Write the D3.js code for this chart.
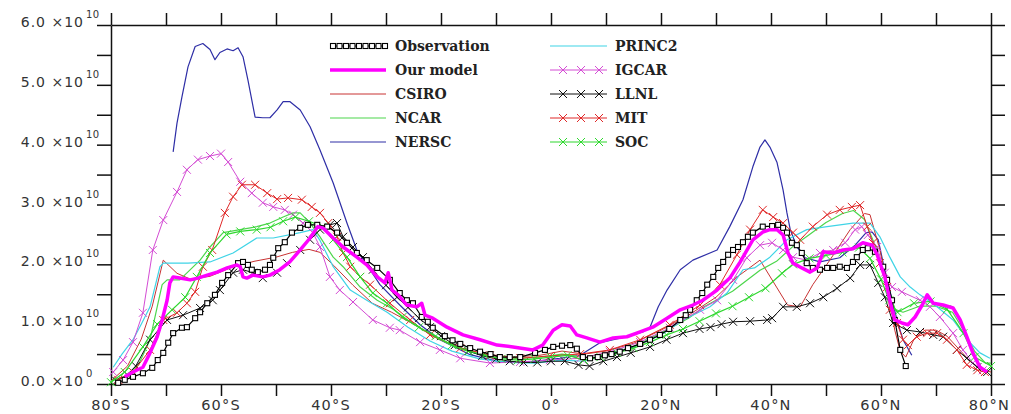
<!DOCTYPE html>
<html>
<head>
<meta charset="utf-8">
<script src="https://cdn.jsdelivr.net/npm/d3@7/dist/d3.min.js"></script>
<style>
  body { margin: 0; background: #fff; }
  svg { display: block; }
</style>
</head>
<body>
<svg id="canvas" width="1011" height="414"></svg>
<script>
// Values are [latitude, value in units of 1e10]
let observation = [[-78.7,0.02],[-77.5,0.07],[-76.0,0.12],[-74.2,0.18],[-72.5,0.27],[-71.5,0.40],[-70.5,0.52],[-69.6,0.69],[-68.7,0.85],[-67.1,0.94],[-66.2,0.95],[-64.7,1.10],[-63.8,1.20],[-62.5,1.35],[-61.1,1.49],[-59.8,1.69],[-58.7,1.82],[-56.9,2.02],[-56.0,2.04],[-55.1,1.99],[-54.4,1.91],[-53.3,1.87],[-52.0,1.91],[-51.1,1.99],[-50.5,2.11],[-49.6,2.27],[-48.4,2.37],[-47.1,2.53],[-45.6,2.61],[-44.2,2.66],[-42.5,2.66],[-40.7,2.63],[-38.9,2.53],[-37.1,2.36],[-35.3,2.19],[-33.5,2.07],[-31.6,1.94],[-29.3,1.74],[-27.5,1.52],[-26.2,1.40],[-25.1,1.35],[-23.5,1.12],[-22.4,1.04],[-21.5,0.94],[-19.3,0.80],[-17.9,0.73],[-16.5,0.67],[-14.7,0.60],[-12.9,0.54],[-11.0,0.50],[-9.3,0.45],[-7.5,0.45],[-5.6,0.45],[-2.9,0.52],[-1.1,0.57],[0.4,0.62],[2.0,0.64],[3.5,0.65],[4.7,0.59],[5.8,0.45],[7.1,0.43],[8.5,0.45],[9.8,0.48],[11.0,0.50],[12.5,0.54],[14.0,0.60],[16.2,0.67],[18.0,0.74],[19.8,0.82],[21.5,0.92],[23.5,1.07],[24.5,1.15],[25.3,1.24],[26.5,1.40],[27.5,1.52],[28.4,1.66],[29.5,1.79],[30.4,1.94],[31.3,2.04],[32.2,2.16],[33.1,2.24],[34.0,2.29],[34.9,2.37],[35.8,2.46],[36.7,2.53],[38.5,2.63],[40.2,2.64],[41.3,2.66],[42.2,2.61],[42.9,2.53],[43.8,2.36],[44.7,2.32],[45.6,2.19],[46.5,2.02],[47.6,1.94],[48.9,1.91],[50.2,1.94],[51.3,1.94],[52.5,1.96],[53.8,1.94],[54.9,2.04],[55.6,2.12],[56.7,2.24],[57.6,2.27],[58.9,2.21],[60.4,1.96],[61.1,1.74],[62.0,1.40],[62.5,1.07],[63.5,0.57],[64.5,0.30]];

let ourModel = [[-77.5,0.12],[-76.0,0.20],[-74.2,0.28],[-72.9,0.52],[-71.6,0.79],[-70.7,1.07],[-69.8,1.40],[-69.3,1.69],[-68.7,1.79],[-67.5,1.77],[-65.6,1.74],[-64.2,1.77],[-62.5,1.82],[-60.7,1.87],[-58.9,1.94],[-57.1,1.99],[-56.5,1.96],[-56.0,1.79],[-55.3,1.77],[-54.2,1.82],[-52.4,1.79],[-51.1,1.82],[-49.3,1.91],[-47.5,2.04],[-45.6,2.24],[-43.8,2.44],[-42.4,2.63],[-41.5,2.61],[-39.6,2.44],[-37.8,2.29],[-35.3,2.12],[-33.5,1.99],[-31.6,1.79],[-30.2,1.69],[-29.6,1.86],[-28.9,1.57],[-27.8,1.49],[-26.2,1.32],[-24.4,1.29],[-23.5,1.35],[-22.9,1.15],[-21.5,1.10],[-18.9,0.95],[-16.0,0.82],[-12.9,0.74],[-9.8,0.65],[-6.9,0.62],[-3.3,0.57],[-1.5,0.65],[0.4,0.90],[2.0,0.99],[3.5,0.97],[4.7,0.82],[6.5,0.77],[8.9,0.70],[11.3,0.77],[13.8,0.79],[16.2,0.87],[18.5,0.95],[21.1,1.10],[23.5,1.24],[25.8,1.32],[27.6,1.40],[30.2,1.57],[32.5,1.77],[34.4,2.04],[36.7,2.41],[38.5,2.54],[39.8,2.58],[41.1,2.58],[42.2,2.49],[43.1,2.19],[44.0,2.02],[45.6,1.94],[47.1,1.87],[48.4,1.94],[49.5,2.21],[51.3,2.19],[53.1,2.24],[54.9,2.26],[56.7,2.36],[58.4,2.32],[59.3,2.16],[60.7,1.79],[61.6,1.40],[62.5,1.07],[63.8,1.02],[64.9,0.99],[66.2,1.12],[67.5,1.32],[68.4,1.49],[69.5,1.35],[71.3,1.32],[73.1,1.27],[74.4,1.07],[75.6,0.79],[76.7,0.52],[78.0,0.28],[79.3,0.20]];

let csiro = [[-80,0.05],[-77,0.3],[-74.5,0.75],[-72.5,1.3],[-70.5,2.07],[-68,1.85],[-65.5,1.75],[-62,1.8],[-58,1.95],[-54,2.05],[-50,2.12],[-47,2.2],[-44,2.25],[-42,2.2],[-39.5,1.98],[-36,1.65],[-32.5,1.35],[-29,1.2],[-25,1.0],[-21,0.78],[-17,0.62],[-12,0.5],[-7,0.45],[-2,0.48],[2,0.55],[6,0.5],[10,0.55],[15,0.68],[20,0.9],[25,1.15],[30,1.45],[34,1.8],[38,2.07],[41,1.62],[43,1.32],[45.3,1.29],[47.6,1.66],[50.7,2.07],[54.4,2.58],[57,2.85],[58,2.83],[59.8,2.24],[61.3,1.57],[62.5,0.9],[63.5,0.55],[64.5,0.45],[66,0.75],[68,0.9],[70,0.9],[72,0.8],[74,0.6],[76,0.4],[78,0.25],[80,0.2]];

let ncar = [[-80,0.05],[-77.6,0.12],[-75,0.32],[-72.9,0.74],[-71.6,1.29],[-70.7,1.66],[-69.8,1.74],[-67.5,1.74],[-63.8,2.07],[-62,2.29],[-59.6,2.53],[-56.5,2.58],[-53.5,2.63],[-51.1,2.69],[-48.7,2.79],[-46.9,2.86],[-45.6,2.86],[-43.8,2.69],[-42,2.46],[-39.6,2.12],[-37.8,1.96],[-34.7,1.62],[-31.6,1.4],[-28.7,1.25],[-25,1.0],[-21,0.78],[-17,0.6],[-12,0.47],[-7,0.42],[-2,0.45],[2,0.5],[6,0.45],[10,0.5],[15,0.62],[20,0.85],[25,1.1],[28,1.3],[33,1.55],[38,1.9],[41,2.05],[44,2.3],[47,2.5],[50,2.7],[53,2.85],[55,2.9],[57,2.75],[59,2.3],[61,1.7],[62.5,1.25],[64,1.2],[67,1.3],[70,1.3],[73,1.2],[75,0.9],[77,0.55],[79,0.35],[80,0.35]];

let nersc = [[-68.7,3.88],[-68.0,4.36],[-67.1,4.80],[-66.0,5.30],[-64.7,5.64],[-63.3,5.69],[-62.0,5.59],[-61.1,5.42],[-60.2,5.54],[-58.9,5.60],[-57.8,5.57],[-56.9,5.62],[-56.0,5.47],[-55.1,5.08],[-53.8,4.46],[-52.4,4.45],[-51.1,4.45],[-49.8,4.58],[-48.7,4.72],[-47.5,4.72],[-45.6,4.58],[-43.8,4.30],[-42.0,3.91],[-39.6,3.36],[-37.1,2.69],[-35.3,2.24],[-32.9,1.91],[-31.1,1.66],[-27.5,1.32],[-23.8,0.99],[-20.2,0.74],[-14.7,0.49],[-9.3,0.37],[-3.8,0.37],[1.6,0.43],[5.3,0.48],[8.9,0.69],[13.8,0.79],[16.7,0.87],[18.0,0.95],[19.5,1.29],[21.1,1.57],[23.5,1.91],[25.8,2.07],[30.2,2.24],[32.5,2.63],[34.9,3.08],[36.7,3.63],[38.0,3.96],[38.9,4.08],[39.8,3.96],[41.1,3.70],[42.2,3.24],[42.9,2.86],[43.5,2.58],[44.7,2.29],[46.2,2.11],[48.9,2.04],[52.5,2.11],[55.3,2.32],[57.3,2.53],[58.4,2.54],[59.5,2.41],[60.4,2.02],[61.6,1.57],[62.9,1.07],[64.0,0.74],[65.6,0.48]];

let princ2 = [[-79.6,0.28],[-78,0.5],[-76,0.74],[-74.5,1.0],[-72.9,1.29],[-71.1,1.96],[-70.5,2.02],[-66,2.02],[-62,2.04],[-57.8,2.19],[-53.5,2.44],[-50.5,2.44],[-45.6,2.53],[-43.3,2.58],[-42,2.4],[-39.6,1.96],[-36.5,1.57],[-33.5,1.4],[-29.8,1.2],[-26,0.95],[-22,0.72],[-18,0.55],[-13,0.42],[-8,0.36],[-3,0.35],[2,0.4],[6,0.38],[10,0.48],[15,0.62],[20,0.82],[24,1.07],[28.9,1.29],[32,1.52],[34.9,1.91],[37,1.94],[39.8,2.12],[42.9,2.41],[46.5,2.58],[50.2,2.63],[54.9,2.69],[58,2.69],[59.8,2.46],[61.6,2.12],[63.5,1.79],[65.3,1.62],[67.1,1.49],[70.2,1.29],[73.1,1.07],[76.2,0.69],[78,0.52],[79.8,0.43]];

let igcar = [[-79.6,0.20],[-77.8,0.40],[-76.0,0.70],[-74.2,1.19],[-72.4,2.24],[-70.5,2.74],[-68.0,3.21],[-66.2,3.58],[-64.2,3.75],[-62.0,3.81],[-60.0,3.85],[-58.7,3.71],[-56.5,3.38],[-54.4,3.19],[-52.4,3.03],[-50.5,2.96],[-48.4,2.91],[-46.9,2.83],[-45.1,2.69],[-43.3,2.53],[-42.0,2.29],[-40.2,1.79],[-38.4,1.57],[-36.0,1.37],[-32.4,1.07],[-29.3,0.94],[-27.5,0.90],[-23.8,0.70],[-20.2,0.57],[-16.5,0.43],[-11.1,0.35],[-5.6,0.37],[-0.2,0.40],[5.3,0.43],[10.7,0.54],[16.2,0.70],[21.6,0.94],[27.1,1.24],[30.2,1.40],[33.1,1.74],[35.6,2.11],[38.0,2.32],[40.2,2.36],[42.2,2.24],[44.0,2.12],[46.5,2.07],[48.9,2.19],[51.3,2.24],[53.5,2.36],[55.3,2.58],[56.5,2.63],[57.6,2.49],[59.3,2.29],[60.7,1.86],[62.0,1.62],[63.8,1.54],[67.1,1.40],[68.9,1.29],[70.7,1.12],[73.1,0.85],[74.9,0.57],[76.7,0.35],[78.5,0.23]];

let llnl = [[-79,0.05],[-77,0.15],[-75.5,0.3],[-72.9,0.74],[-69.8,1.07],[-66.9,1.15],[-63.8,1.27],[-61.5,1.40],[-60.2,1.57],[-57.8,1.86],[-56,1.91],[-54.2,1.86],[-52.4,1.77],[-49.8,1.86],[-48,2.02],[-45.6,2.24],[-43.8,2.41],[-42,2.58],[-40.2,2.66],[-38.9,2.69],[-37.8,2.46],[-36,2.29],[-34.2,2.12],[-32.4,1.91],[-30,1.65],[-28,1.45],[-26,1.28],[-24,1.1],[-22,0.95],[-20,0.8],[-17.5,0.65],[-15,0.55],[-12.5,0.47],[-10,0.42],[-7.5,0.38],[-5,0.36],[-2.5,0.36],[0,0.38],[2.5,0.38],[5,0.32],[7,0.3],[9.5,0.38],[12,0.45],[14.5,0.52],[18,0.62],[21,0.74],[24,0.85],[27,0.92],[29,0.95],[31,1.0],[33.1,1.04],[36.2,1.05],[39.3,1.07],[40.2,1.1],[42.2,1.29],[44.7,1.29],[47.1,1.35],[49.5,1.45],[52,1.6],[54.4,1.77],[56.2,1.99],[58,1.99],[59.5,1.69],[60.7,1.45],[62.2,1.02],[64.7,0.9],[67.1,0.87],[69.5,0.82],[71.3,0.79],[73.8,0.57],[75.6,0.43],[77.5,0.28],[79.3,0.2]];

let mit = [[-78.7,0.07],[-76.0,0.20],[-72.9,0.57],[-70.5,1.07],[-68.0,1.19],[-66.2,1.35],[-64.7,1.54],[-63.3,1.96],[-61.6,2.24],[-59.3,2.86],[-57.8,3.13],[-56.2,3.33],[-53.8,3.33],[-51.6,3.19],[-49.8,3.09],[-47.8,3.11],[-45.3,3.08],[-43.5,2.96],[-42.0,2.86],[-40.5,2.69],[-38.9,2.46],[-37.8,2.19],[-36.5,1.96],[-34.7,1.79],[-32.9,1.66],[-29.3,1.35],[-25.6,1.07],[-22.0,0.82],[-16.5,0.60],[-11.1,0.48],[-5.6,0.43],[-0.2,0.47],[5.3,0.50],[10.7,0.57],[16.2,0.74],[21.6,0.99],[27.1,1.32],[30.7,1.66],[33.8,2.16],[36.2,2.58],[38.5,2.91],[40.4,2.79],[42.2,2.69],[44.0,2.53],[45.3,2.41],[47.6,2.63],[50.2,2.83],[52.5,2.91],[54.7,2.96],[56.2,2.99],[57.5,2.63],[58.5,2.36],[59.8,2.02],[61.1,1.62],[61.6,1.24],[62.9,1.02],[64.0,0.74],[64.9,0.65],[66.5,0.79],[68.4,0.85],[70.2,0.85],[72.0,0.74],[73.8,0.57],[75.6,0.32],[77.5,0.23],[78.9,0.20]];

let soc = [[-80,0.03],[-77.5,0.2],[-74.2,0.62],[-71.6,1.0],[-68.9,1.24],[-66.5,1.45],[-64.4,1.79],[-62,2.19],[-59,2.5],[-56.5,2.55],[-53.5,2.58],[-51,2.62],[-48.7,2.72],[-46.5,2.79],[-44,2.72],[-41.5,2.63],[-39.6,2.41],[-37.1,2.12],[-34.7,1.79],[-32.4,1.52],[-29.8,1.35],[-27,1.12],[-24,0.95],[-21,0.8],[-18,0.65],[-15,0.55],[-12,0.48],[-9,0.42],[-6,0.4],[-3,0.42],[0,0.45],[3,0.48],[6,0.4],[9,0.45],[12,0.52],[15,0.6],[18,0.7],[21,0.82],[24,0.92],[27,1.05],[30,1.18],[33,1.3],[36,1.45],[39,1.6],[42,1.85],[44,2.0],[47,2.1],[50,2.15],[53,2.2],[56,2.28],[58,2.1],[60,1.75],[61.5,1.4],[63,1.2],[66,1.35],[69,1.38],[72,1.25],[75,0.85],[77,0.45],[80,0.3]];

// Axis ticks and labels
let xTicks = [-80, -60, -40, -20, 0, 20, 40, 60, 80];
let xTickLabels = ["80°S", "60°S", "40°S", "20°S", "0°", "20°N", "40°N", "60°N", "80°N"];
let yTicks = [0, 1, 2, 3, 4, 5, 6];
let yTickLabels = ["0.0", "1.0", "2.0", "3.0", "4.0", "5.0", "6.0"];
let yTickExponents = ["0", "10", "10", "10", "10", "10", "10"];

// Series drawing styles (drawn in this order, legend placement by col/row)
let series = [
    { name: "NERSC",       data: nersc,       color: "#2e2ea6", width: 1.2, marker: null,     col: 0, row: 4 },
    { name: "CSIRO",       data: csiro,       color: "#c83232", width: 1,   marker: null,     col: 0, row: 2 },
    { name: "NCAR",        data: ncar,        color: "#4cd64c", width: 1.2, marker: null,     col: 0, row: 3 },
    { name: "PRINC2",      data: princ2,      color: "#3fd4e6", width: 1.2, marker: null,     col: 1, row: 0 },
    { name: "IGCAR",       data: igcar,       color: "#d44cd4", width: 1,   marker: "x",      col: 1, row: 1 },
    { name: "LLNL",        data: llnl,        color: "#111111", width: 1,   marker: "x",      col: 1, row: 2 },
    { name: "MIT",         data: mit,         color: "#e02828", width: 1,   marker: "x",      col: 1, row: 3 },
    { name: "SOC",         data: soc,         color: "#2ed82e", width: 1.2, marker: "x",      col: 1, row: 4 },
    { name: "Observation", data: observation, color: "#000000", width: 1.2, marker: "square", col: 0, row: 0 },
    { name: "Our model",   data: ourModel,    color: "#ff00ff", width: 3.5, marker: null,     col: 0, row: 1 }
];

let svg = d3.select('#canvas');

let x = d3.scaleLinear().domain([-80, 80]).range([111, 991]);
let y = d3.scaleLinear().domain([0, 6]).range([384, 25]);

let line = d3.line()
    .x(d => x(d[0]))
    .y(d => y(d[1]));

// Frame ticks on all four sides, pointing outward
let minorY = d3.range(0, 6.01, 0.5);
let minorX = d3.range(-80, 80.1, 10);
let axisStyle = g => {
    g.select(".domain").attr("stroke", "#111").attr("stroke-width", 1.5);
    g.selectAll(".tick line").attr("stroke", "#111").attr("stroke-width", 1.5);
};
svg.append("g").attr("transform", "translate(111,0)")
    .call(d3.axisLeft(y).tickValues(minorY).tickSize(14).tickSizeOuter(0).tickFormat(""))
    .call(axisStyle);
svg.append("g").attr("transform", "translate(991,0)")
    .call(d3.axisRight(y).tickValues(minorY).tickSize(14).tickSizeOuter(0).tickFormat(""))
    .call(axisStyle);
svg.append("g").attr("transform", "translate(0,384)")
    .call(d3.axisBottom(x).tickValues(minorX).tickSize(12).tickSizeOuter(0).tickFormat(""))
    .call(axisStyle);
svg.append("g").attr("transform", "translate(0,25)")
    .call(d3.axisTop(x).tickValues(minorX).tickSize(12).tickSizeOuter(0).tickFormat(""))
    .call(axisStyle);

// Tick labels: mantissa right-aligned, exponent set after it
let labelFont = "'DejaVu Sans', sans-serif";
let yLabels = svg.append("g");
yLabels.selectAll("text.mant")
    .data(yTicks)
    .enter()
    .append("text")
    .attr("class", "mant")
    .attr("x", 84)
    .attr("y", d => y(d) + 2)
    .attr("text-anchor", "end")
    .attr("font-family", labelFont)
    .attr("font-size", 14)
    .attr("letter-spacing", 1)
    .attr("fill", "#333")
    .text((d, i) => yTickLabels[i] + " ×10");
yLabels.selectAll("text.exp")
    .data(yTicks)
    .enter()
    .append("text")
    .attr("class", "exp")
    .attr("x", 86)
    .attr("y", d => y(d) - 7)
    .attr("font-family", labelFont)
    .attr("font-size", 10)
    .attr("letter-spacing", 0.5)
    .attr("fill", "#333")
    .text((d, i) => yTickExponents[i]);

// x labels centred under ticks, kept inside the picture
svg.append("g").selectAll("text")
    .data(xTicks)
    .enter()
    .append("text")
    .attr("y", 410)
    .attr("font-family", labelFont)
    .attr("font-size", 14.5)
    .attr("letter-spacing", 1.2)
    .attr("fill", "#333")
    .text((d, i) => xTickLabels[i])
    .attr("x", function (d) {
        let w = this.getComputedTextLength();
        return Math.min(x(d) - w / 2, 1010 - w);
    });

// Markers
let drawMarkers = (g, points, s) => {
    if (s.marker === "x") {
        g.selectAll("path.mk")
            .data(points)
            .enter()
            .append("path")
            .attr("class", "mk")
            .attr("d", d => {
                let px = d[0], py = d[1];
                return `M${px - 4},${py - 4}L${px + 4},${py + 4}M${px - 4},${py + 4}L${px + 4},${py - 4}`;
            })
            .attr("stroke", s.color)
            .attr("stroke-width", 1)
            .attr("fill", "none");
    } else if (s.marker === "square") {
        g.selectAll("rect.mk")
            .data(points)
            .enter()
            .append("rect")
            .attr("class", "mk")
            .attr("x", d => d[0] - 2.5)
            .attr("y", d => d[1] - 2.5)
            .attr("width", 5)
            .attr("height", 5)
            .attr("fill", "#fff")
            .attr("stroke", "#000")
            .attr("stroke-width", 1.1);
    }
};

// Curves
series.forEach(s => {
    let g = svg.append("g");
    g.append("path")
        .datum(s.data)
        .attr("d", line)
        .attr("fill", "none")
        .attr("stroke", s.color)
        .attr("stroke-width", s.width)
        .attr("stroke-linejoin", "round");
    drawMarkers(g, s.data.map(d => [x(d[0]), y(d[1])]), s);
});

// Legend
let legendCols = [{ x0: 330, x1: 386, tx: 395 }, { x0: 550, x1: 607, tx: 615 }];
let legendRowY = r => 46 + r * 24;
let legend = svg.append("g");
series.forEach(s => {
    let c = legendCols[s.col];
    let ly = legendRowY(s.row);
    let g = legend.append("g");
    g.append("line")
        .attr("x1", c.x0).attr("x2", c.x1)
        .attr("y1", ly).attr("y2", ly)
        .attr("stroke", s.color)
        .attr("stroke-width", s.width);
    let pts = [];
    if (s.marker === "x") pts = [13, 31, 49].map(o => [c.x0 + o, ly]);
    if (s.marker === "square") pts = d3.range(3, 56, 6.5).map(o => [c.x0 + o, ly]);
    drawMarkers(g, pts, s);
    g.append("text")
        .attr("x", c.tx)
        .attr("y", ly + 5)
        .attr("font-family", "'DejaVu Serif', serif")
        .attr("font-weight", "bold")
        .attr("font-size", 14)
        .attr("fill", "#222")
        .text(s.name);
});
</script>
</body>
</html>
